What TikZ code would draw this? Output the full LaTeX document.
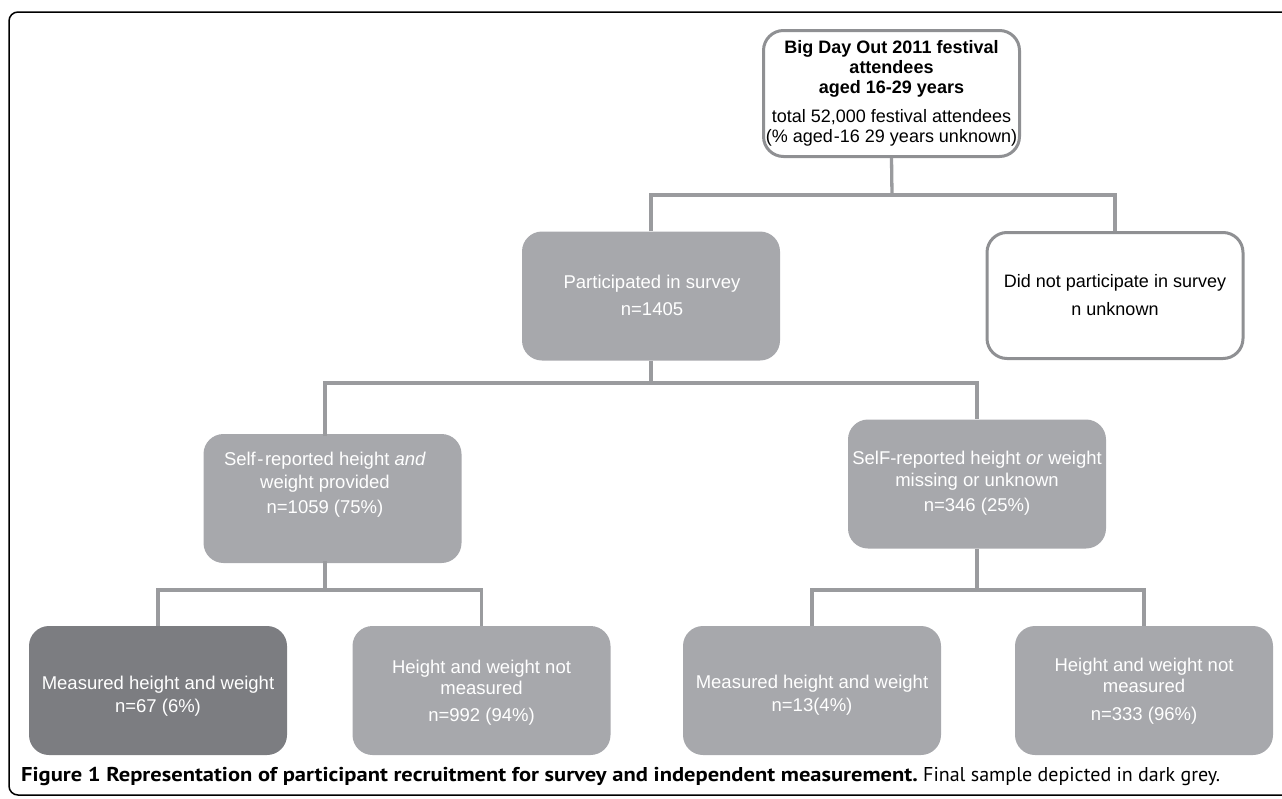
\documentclass[tikz,border=0pt]{standalone}
\usepackage{fontspec}
\setmainfont{Liberation Sans}
\newfontfamily\capfont{PT Sans}
\definecolor{boxgray}{HTML}{A7A8AC}
\definecolor{boxdark}{HTML}{7C7D81}
\definecolor{conngray}{HTML}{9A9B9E}
\definecolor{bordergray}{HTML}{8F9093}
\tikzset{
  gbox/.style={rectangle, rounded corners=20pt, fill=boxgray, draw=none, minimum width=258pt, minimum height=129pt, inner sep=0pt},
  dbox/.style={gbox, fill=boxdark},
  wbox/.style={rectangle, rounded corners=20pt, fill=white, draw=bordergray, line width=3pt, minimum width=256pt, minimum height=126pt, inner sep=0pt},
  wtxt/.style={text=white, align=center, inner sep=0pt, font=\fontsize{18.5}{22}\selectfont},
  btxt/.style={text=black, align=center, inner sep=0pt, font=\fontsize{18}{20}\selectfont},
  conn/.style={draw=conngray, line width=3.3pt}
}
\begin{document}
\begin{tikzpicture}[x=1pt,y=-1pt]
\useasboundingbox (0,0) rectangle (1282,798);
\clip (0,0) rectangle (1282,798);
\draw[black, line width=1.5pt, rounded corners=9pt] (9,12) rectangle (1320,795);

\coordinate (j1) at (892,195);
\coordinate (j2) at (651,383);
\coordinate (j3) at (325,590);
\coordinate (j4) at (977,590);
\coordinate (lmtop) at (325,436);
\coordinate (lmbot) at (325,561);

% boxes
\node[wbox] (top) at (891.5,93.5) {};
\node[gbox] (part) at (651,296) {};
\node[wbox] (dn) at (1115,295.5) {};
\node[gbox] (lm) at (332.5,498.5) {};
\node[gbox] (rm) at (977,484) {};
\node[dbox] (b1) at (158,690.5) {};
\node[gbox] (b2) at (481.5,690.5) {};
\node[gbox] (b3) at (812,690.5) {};
\node[gbox] (b4) at (1144,690.5) {};

% connectors
\draw[conn] (top.south) -- (j1);
\draw[conn] (part.north) |- (j1) -| (dn.north);
\draw[conn] (part.south) -- (j2);
\draw[conn] (lmtop) |- (j2) -| (rm.north);
\draw[conn] (lmbot) -- (j3);
\draw[conn] (b1.north) |- (j3) -| (b2.north);
\draw[conn] (rm.south) -- (j4);
\draw[conn] (b3.north) |- (j4) -| (b4.north);

% texts
\node[btxt] (topt) at (891.5,93) {\textbf{Big Day Out 2011 festival}\\\textbf{attendees}\\\textbf{aged 16-29 years}\\[9pt]total 52,000 festival attendees\\(\% aged\kern1pt-16 29 years unknown)};
\node[wtxt] (partt) at (652,295) {Participated in survey\\[5pt]n=1405};
\node[btxt] (dnt) at (1115,295) {Did not participate in survey\\[8pt]n unknown};
\node[wtxt] (lmt) at (325,485) {Self\kern1.5pt-\kern1.5pt reported height \textit{and}\\[1pt]weight provided\\[3pt]n=1059 (75\%)};
\node[wtxt] (rmt) at (977,483) {SelF-reported height \textit{or} weight\\missing or unknown\\[3pt]n=346 (25\%)};
\node[wtxt] (b1t) at (158,696) {Measured height and weight\\[1pt]n=67 (6\%)};
\node[wtxt] (b2t) at (481.5,693) {Height and weight not\\[-1pt]measured\\[5pt]n=992 (94\%)};
\node[wtxt] (b3t) at (812,695) {Measured height and weight\\[1pt]n=13(4\%)};
\node[wtxt] (b4t) at (1144,691) {Height and weight not\\[-1pt]measured\\[6pt]n=333 (96\%)};

% caption
\node[anchor=base west, inner sep=0pt, font=\capfont\fontsize{20}{22}\selectfont] (cap) at (21,781) {\scalebox{1.126}[1]{\textbf{Figure 1 Representation of participant recruitment for survey and independent measurement.}} Final sample depicted in dark grey.};
\end{tikzpicture}
\end{document}
